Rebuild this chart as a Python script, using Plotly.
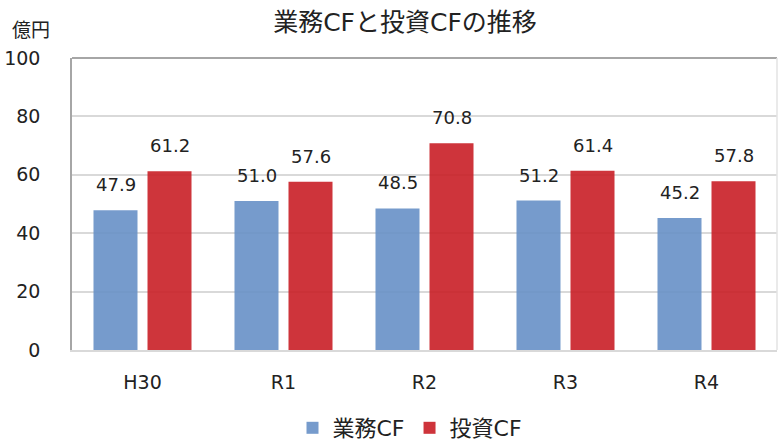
import plotly.graph_objects as go

categories = ["H30", "R1", "R2", "R3", "R4"]
gyomu_cf = [47.9, 51.0, 48.5, 51.2, 45.2]
toshi_cf = [61.2, 57.6, 70.8, 61.4, 57.8]
series_names = ["業務CF", "投資CF"]
y_ticks = [0, 20, 40, 60, 80, 100]

FONT = "DejaVu Sans, Noto Sans CJK JP, sans-serif"

fig = go.Figure()
fig.add_trace(go.Bar(
    x=categories, y=gyomu_cf, name=series_names[0],
    marker=dict(color="#6891c7", line=dict(width=0)),
    opacity=0.9,
))
fig.add_trace(go.Bar(
    x=categories, y=toshi_cf, name=series_names[1],
    marker=dict(color="#c91f26", line=dict(width=0)),
    opacity=0.9,
))

# value labels, placed at each bar top (data coords) and nudged above it
annotations = []
for series, xshift in ((gyomu_cf, -27), (toshi_cf, 27)):
    for cat, val in zip(categories, series):
        annotations.append(dict(
            x=cat, y=val, xref="x", yref="y", text=f"{val:.1f}",
            showarrow=False, xanchor="center", yanchor="bottom",
            xshift=xshift, yshift=13,
            font=dict(size=18, color="#222222", family=FONT),
        ))
annotations.append(dict(
    text="億円", xref="paper", yref="paper", x=-0.058, y=1.095,
    xanchor="center", yanchor="middle", showarrow=False,
    font=dict(size=19, family=FONT, color="#222222"),
))

fig.update_layout(
    width=778, height=441,
    margin=dict(l=72, r=1, t=58, b=91, autoexpand=False),
    paper_bgcolor="white", plot_bgcolor="white",
    font=dict(family=FONT, size=18, color="#222222"),
    title=dict(text="業務CFと投資CFの推移", x=405/778, xanchor="center",
               xref="container", yref="container",
               y=1 - 22/441, yanchor="middle",
               font=dict(size=25, color="#222222", family=FONT)),
    barmode="group", bargap=0.234, bargroupgap=0.185,
    showlegend=True,
    legend=dict(orientation="h", x=410/778, xanchor="center",
                xref="container", yref="container",
                y=1 - 428/441, yanchor="middle",
                font=dict(size=22, family=FONT), itemwidth=30, traceorder="normal"),
    xaxis=dict(showgrid=False, showline=True, linecolor="#d9d9d9", linewidth=2,
               mirror=False, ticks="", tickfont=dict(size=19), ticklabelstandoff=14,
               automargin=False),
    yaxis=dict(range=[0, 100], tickvals=y_ticks, showgrid=True, gridcolor="#d9d9d9",
               gridwidth=1.5, zeroline=False, showline=True, linecolor="#a6a6a6",
               linewidth=1.5, ticks="", tickfont=dict(size=19), ticklabelstandoff=26,
               automargin=False),
    shapes=[
        dict(type="line", xref="paper", yref="paper", x0=0, x1=1, y0=1, y1=1,
             line=dict(color="#a6a6a6", width=2)),
        dict(type="line", xref="paper", yref="paper", x0=1, x1=1, y0=0, y1=1,
             line=dict(color="#e3e3e3", width=1.5)),
    ],
    annotations=annotations,
)

fig.write_html(
    "out.html",
    config={"displayModeBar": False},
    post_script="document.body.style.margin='0px';document.body.style.overflow='hidden';",
)
